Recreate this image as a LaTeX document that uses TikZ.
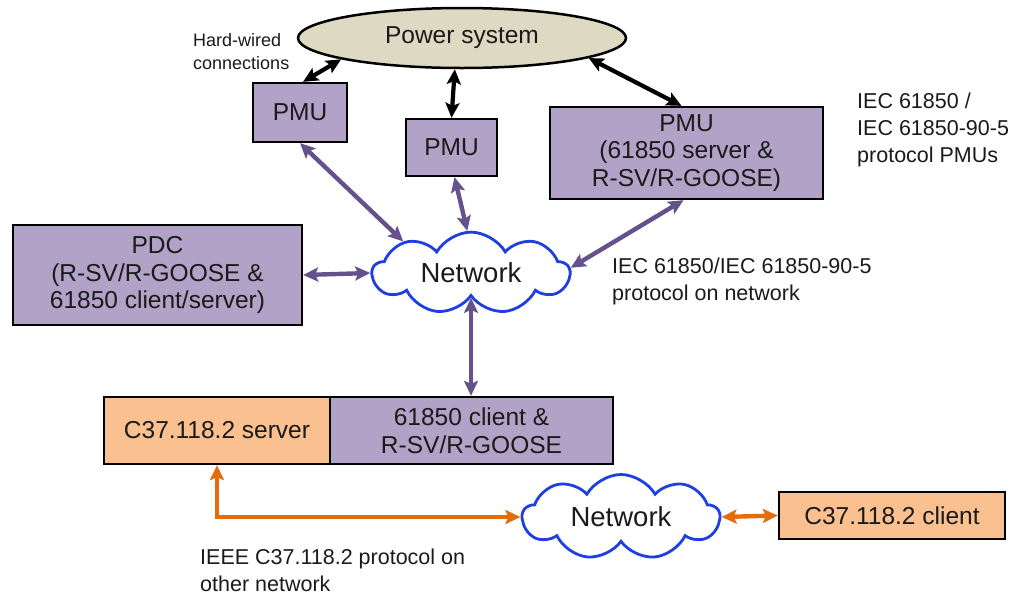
\documentclass[tikz,border=0pt]{standalone}
\usepackage{fontspec}
\setmainfont{Liberation Sans}
\usetikzlibrary{arrows.meta,shapes.symbols,shapes.geometric,calc}

\definecolor{boxpurple}{HTML}{B3A2C7}
\definecolor{boxorange}{HTML}{FAC090}
\definecolor{sysfill}{HTML}{DDD9C3}
\definecolor{linkpurple}{HTML}{65528C}
\definecolor{linkorange}{HTML}{E46C0A}
\definecolor{cloudblue}{HTML}{1F3FE0}
\definecolor{textgrey}{HTML}{1A1A1A}

\newcommand{\boxfont}{\fontsize{24.5}{27.5}\selectfont}
\newcommand{\labelfont}{\fontsize{21.5}{27}\selectfont}
\newcommand{\smallfont}{\fontsize{18}{23}\selectfont}

\begin{document}
\begin{tikzpicture}[x=1pt,y=-1pt,
  unit/.style={draw=black, line width=2.3pt, fill=boxpurple, align=center,
    font=\boxfont, text=textgrey, inner sep=0pt},
  legacy/.style={unit, fill=boxorange},
  netcloud/.style={cloud, cloud puffs=9, cloud puff arc=120, aspect=2.5,
    draw=cloudblue, line width=2.8pt, fill=white, inner sep=0pt,
    font=\fontsize{27.5}{30}\selectfont, text=textgrey},
  note/.style={align=left, inner sep=0pt, text=textgrey},
  wire/.style={line width=4.2pt, draw=black,
    arrows={Stealth[length=15pt,width=14pt,inset=3pt]-Stealth[length=15pt,width=14pt,inset=3pt]}},
  plink/.style={line width=4.4pt, draw=linkpurple,
    arrows={Stealth[length=15pt,width=14pt,inset=3pt]-Stealth[length=15pt,width=14pt,inset=3pt]}},
  olink/.style={line width=4.4pt, draw=linkorange,
    arrows={Stealth[length=15pt,width=14pt,inset=3pt]-Stealth[length=15pt,width=14pt,inset=3pt]}},
]
\useasboundingbox (0,0) rectangle (1012,595);

% power system
\node[ellipse, draw=black, line width=2.5pt, fill=sysfill, minimum width=328, minimum height=60,
      font=\fontsize{24.5}{27}\selectfont, text=textgrey, inner sep=0pt] (sys) at (462,38) {Power system};

% measurement units
\node[unit, minimum width=94, minimum height=59] (pmu1) at (300,112.5) {PMU};
\node[unit, minimum width=91, minimum height=57] (pmu2) at (451.5,147.5) {PMU};
\node[unit, minimum width=273, minimum height=92] (pmu3) at (686.5,153) {PMU\\(61850 server \&\\R-SV/R-GOOSE)};
\node[unit, minimum width=289, minimum height=100] (pdc) at (157.5,275) {PDC\\(R-SV/R-GOOSE \&\\61850 client/server)};

% gateway
\node[legacy, minimum width=226, minimum height=67] (c1) at (217,430.5) {C37.118.2 server};
\node[unit, minimum width=283, minimum height=67] (c2) at (471.5,430.5) {61850 client \&\\R-SV/R-GOOSE};
\node[legacy, minimum width=226, minimum height=47] (client) at (892,515.5) {C37.118.2 client};

% networks
\node[netcloud, minimum width=197, minimum height=77] (net1) at (471,273) {Network};
\node[netcloud, minimum width=197, minimum height=85] (net2) at (621,517) {Network};

% notes
\node[note, font=\smallfont, anchor=west] (hw) at (193,51.5) {Hard-wired\\connections};
\node[note, font=\labelfont, anchor=west] (iecpmu) at (857,130) {IEC 61850 /\\IEC 61850-90-5\\protocol PMUs};
\node[note, font=\labelfont, anchor=west] (iecnet) at (612,281.5) {IEC 61850/IEC 61850-90-5\\protocol on network};
\node[note, font=\labelfont, anchor=west] (ieee) at (200,570) {IEEE C37.118.2 protocol on\\other network};

% hard-wired links
\draw[wire] ($(pmu1.north)+(3,0)$) -- (sys.190.6);
\draw[wire] (pmu2.north) -- (sys.257);
\draw[wire] ($(pmu3.north)+(-5,0)$) -- (sys.-9.5);

% IEC 61850 network links
\draw[plink] (pmu1.south) -- (net1.155);
\draw[plink] ($(pmu2.south)+(3,0)$) -- (net1.95);
\draw[plink] ($(pmu3.south)+(-3,0)$) -- (net1.3);
\draw[plink] (pdc.east) -- (net1.west);
\draw[plink] (net1.south) -- (net1.south |- c2.north);

% C37.118.2 links
\draw[olink] (c1.south) |- (net2.west);
\draw[olink] (net2.east) -- (client.west);
\end{tikzpicture}
\end{document}
